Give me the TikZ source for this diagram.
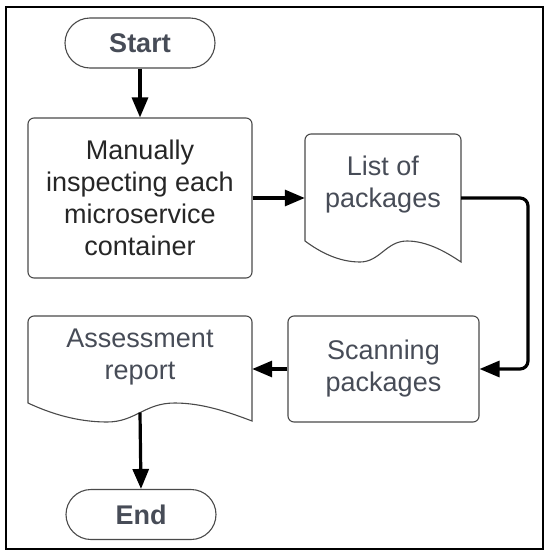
\documentclass[tikz,border=0pt]{standalone}
\usepackage{fontspec}
\setmainfont{Liberation Sans}
\usetikzlibrary{arrows.meta,shapes.misc}
\definecolor{txtgrey}{HTML}{474C57}
\definecolor{txtdark}{HTML}{262626}
\definecolor{edgegrey}{HTML}{4A4A4A}
\tikzset{
  shapeline/.style={draw=edgegrey, line width=1.1pt},
  term/.style={shapeline, rounded rectangle, minimum width=150pt, minimum height=50pt,
    font=\fontsize{27}{32}\selectfont\bfseries, text=txtgrey, inner sep=0pt},
  procbox/.style={shapeline, rectangle, rounded corners=6pt, align=center, inner sep=0pt,
    font=\fontsize{27}{32}\selectfont},
  ghost/.style={rectangle, inner sep=0pt},
  doctext/.style={align=center, inner sep=0pt, font=\fontsize{27}{32}\selectfont, text=txtgrey},
  flow/.style={line width=3.2pt, black, -{Triangle[length=20pt,width=16pt]}},
}
\begin{document}
\begin{tikzpicture}[x=1pt,y=-1pt]
\useasboundingbox (0,0) rectangle (550,557);
\draw[black, line width=1.6pt] (6,7) rectangle (543,549);

% terminals
\node[term] (start) at (140,43) {Start};
\node[term] (end) at (141,514.5) {End};

% process boxes
\node[procbox, minimum width=224pt, minimum height=160pt, text=txtdark] (manual) at (140,198)
  {Manually\\inspecting each\\microservice\\container};
\node[procbox, minimum width=191pt, minimum height=106pt, text=txtgrey] (scan) at (383.5,369)
  {Scanning\\packages};

% document: list of packages
\draw[shapeline] (305,241) [rounded corners=6pt] -- (305,134) -- (461,134) [sharp corners] -- (461,262)
  .. controls (445.4,251.5) and (426.7,241) .. (407,241)
  .. controls (386.1,241) and (379.9,262) .. (360,262)
  .. controls (339.3,262) and (320.6,252.6) .. (305,241) -- cycle;
\node[ghost, minimum width=156pt, minimum height=128pt] (list) at (383,198) {};
\node[doctext] (listtext) at (383,184.5) {List of\\packages};

% document: assessment report
\draw[shapeline] (28,403) [rounded corners=6pt] -- (28,316) -- (252,316) [sharp corners] -- (252,421)
  .. controls (229.6,412.5) and (202.7,403) .. (174.7,403)
  .. controls (144.5,403) and (135.5,422) .. (107,422)
  .. controls (77.3,422) and (50.4,413.5) .. (28,403) -- cycle;
\node[ghost, minimum width=224pt, minimum height=106pt] (assess) at (140,369) {};
\node[doctext] (assesstext) at (140,357.5) {Assessment\\report};
\coordinate (assessout) at (140,412.5);
\coordinate (bendtop) at (528,198);
\coordinate (bendbot) at (528,369);

% connectors
\draw[flow] (start.south) -- (manual.north);
\draw[flow] (manual.east) -- (list.west);
\draw[flow, rounded corners=8pt] (list.east) -- (bendtop) -- (bendbot) -- (scan.east);
\draw[flow] (scan.west) -- (assess.east);
\draw[flow] (assessout) -- (end.north);
\end{tikzpicture}
\end{document}
